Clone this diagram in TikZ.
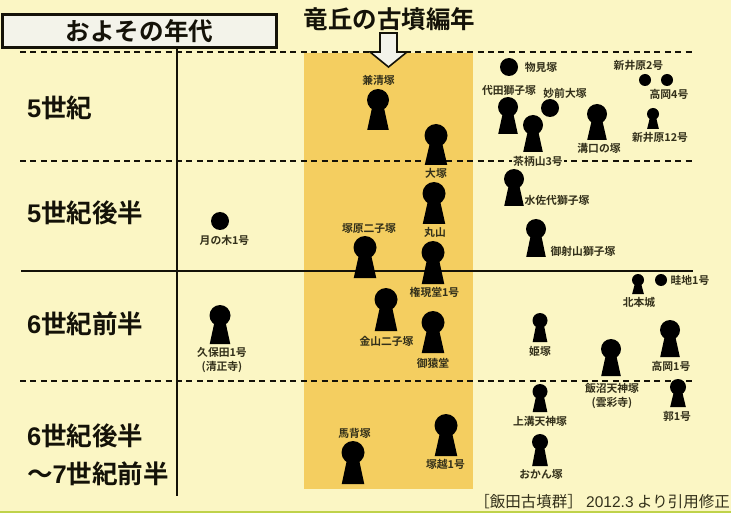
\documentclass[tikz,border=0pt]{standalone}
\usepackage{fontspec}
\setmainfont{Noto Sans CJK JP}[BoldFont={Noto Sans CJK JP Bold}]
\newfontfamily\latinfont{Liberation Sans}
\newcommand{\lt}[1]{{\latinfont #1}}
\definecolor{paper}{HTML}{FBF6C4}
\definecolor{band}{HTML}{F4CE60}
\definecolor{ink}{HTML}{141208}
\definecolor{labelink}{HTML}{33301A}
\definecolor{boxfill}{HTML}{F3F3EA}
\definecolor{strip}{HTML}{BFD24A}
\tikzset{
  rule/.style={draw=ink,line width=2.8pt},
  dashrule/.style={draw=ink,line width=2.8pt,dash pattern=on 6pt off 4.4pt},
  tomb/.style={fill=black,draw=none},
  small/.style={inner sep=0pt,text=labelink,font=\fontsize{10.8}{14}\selectfont\bfseries,align=center},
  era/.style={inner sep=0pt,anchor=west,text=ink,font=\fontsize{25.5}{36}\selectfont\bfseries,align=left},
}
% keyhole: centre x, top y, bottom y, radius
\newcommand{\kofun}[4]{%
  \fill[tomb] (#1,#2+#4) circle[radius=#4];
  \fill[tomb] (#1-0.52*#4,#2+1.6*#4) -- (#1+0.52*#4,#2+1.6*#4) -- (#1+0.98*#4,#3) -- (#1-0.98*#4,#3) -- cycle;
}
\begin{document}
\begin{tikzpicture}[x=1pt,y=-1pt]
\useasboundingbox (0,0) rectangle (731,513);
\fill[paper] (0,0) rectangle (731,513);
\fill[strip] (0,511) rectangle (731,513);
\fill[band] (304,53) rectangle (473,489);
% rules
\draw[dashrule] (20,52) -- (693,52);
\draw[dashrule] (20,161) -- (693,161);
\draw[rule] (21,271) -- (693,271);
\draw[dashrule] (20,381) -- (693,381);
\draw[rule] (177,48) -- (177,496);
% header
\node[draw=ink,line width=2.8pt,fill=boxfill,minimum width=274pt,minimum height=33pt,inner sep=0pt,
      font=\fontsize{24.6}{28}\selectfont\bfseries,text=ink] (agebox) at (139.5,31) {およその年代};
\node[inner sep=0pt,font=\fontsize{24.5}{28}\selectfont\bfseries,text=ink] (title) at (389.5,19) {竜丘の古墳編年};
\draw[draw=ink,line width=1.6pt,fill=boxfill,line join=miter]
  (380,33) -- (397,33) -- (397,52) -- (407,52) -- (388.5,67) -- (370,52) -- (380,52) -- cycle;
% era labels
\node[era] (e1) at (27,108) {\lt{5}世紀};
\node[era] (e2) at (27,213) {\lt{5}世紀後半};
\node[era] (e3) at (27,324) {\lt{6}世紀前半};
\node[era] (e4) at (27,436) {\lt{6}世紀後半};
\node[era] (e5) at (27,474) {～\lt{7}世紀前半};
% central keyholes
\kofun{378}{89}{130}{11}
\kofun{436}{124}{165}{11.5}
\kofun{434}{182}{224}{11.5}
\kofun{365}{236}{278}{11.5}
\kofun{433}{241}{284}{11.5}
\kofun{386}{288}{331}{11.5}
\kofun{433}{311}{353}{11.5}
\kofun{353}{441}{484}{11.5}
\kofun{446}{414}{456}{11.5}
\kofun{220}{305}{344}{10.5}
\fill[tomb] (220,221) circle[radius=9];
% right keyholes
\kofun{508}{97}{134}{10}
\kofun{533}{115}{152}{10}
\kofun{597}{104}{140}{10}
\kofun{653}{108}{129}{6}
\kofun{514}{169}{206}{10}
\kofun{536}{219}{257}{10}
\kofun{638}{274}{294}{6}
\kofun{540}{313}{342}{7.5}
\kofun{670}{320}{357}{10}
\kofun{611}{339}{376}{10}
\kofun{678}{379}{407}{8}
\kofun{540}{384}{412}{7.5}
\kofun{540}{434}{466}{8}
\fill[tomb] (509,67) circle[radius=9];
\fill[tomb] (550,108) circle[radius=9];
\fill[tomb] (645,80) circle[radius=6];
\fill[tomb] (667,80) circle[radius=6];
\fill[tomb] (661,280) circle[radius=6];
% labels, centre column
\node[small] (n1) at (378.5,80) {兼清塚};
\node[small] (n2) at (436,173.5) {大塚};
\node[small] (n3) at (435,232) {丸山};
\node[small] (n4) at (369,228) {塚原二子塚};
\node[small] (n5) at (434.5,292.5) {権現堂1号};
\node[small] (n6) at (386.5,341) {金山二子塚};
\node[small] (n7) at (433,363) {御猿堂};
\node[small] (n8) at (354.5,433) {馬背塚};
\node[small] (n9) at (445.5,464) {塚越1号};
\node[small] (n10) at (224.5,240) {月の木1号};
\node[small] (n11) at (222,360) {久保田1号\\(清正寺)};
% labels, right
\node[small] (r1) at (541,67) {物見塚};
\node[small] (r2) at (509,90) {代田獅子塚};
\node[small] (r3) at (565,93) {妙前大塚};
\node[small] (r4) at (638.5,65) {新井原2号};
\node[small] (r5) at (669,94) {高岡4号};
\node[small] (r6) at (660,137) {新井原12号};
\node[small] (r7) at (599,148) {溝口の塚};
\node[small,fill=paper,inner xsep=1pt] (r8) at (538,161) {茶柄山3号};
\node[small] (r9) at (557,200) {水佐代獅子塚};
\node[small] (r10) at (583,251) {御射山獅子塚};
\node[small] (r11) at (690,280) {畦地1号};
\node[small] (r12) at (639,302) {北本城};
\node[small] (r13) at (540,351) {姫塚};
\node[small] (r14) at (671,366) {高岡1号};
\node[small] (r15) at (612,396) {飯沼天神塚\\(雲彩寺)};
\node[small] (r16) at (677,416) {郭1号};
\node[small] (r17) at (540,421) {上溝天神塚};
\node[small] (r18) at (541,474) {おかん塚};
\node[inner sep=0pt,anchor=east,text=labelink,font=\fontsize{15.5}{16}\selectfont] (src) at (730,502) {［飯田古墳群］ \lt{2012.3} より引用修正};
\end{tikzpicture}
\end{document}
